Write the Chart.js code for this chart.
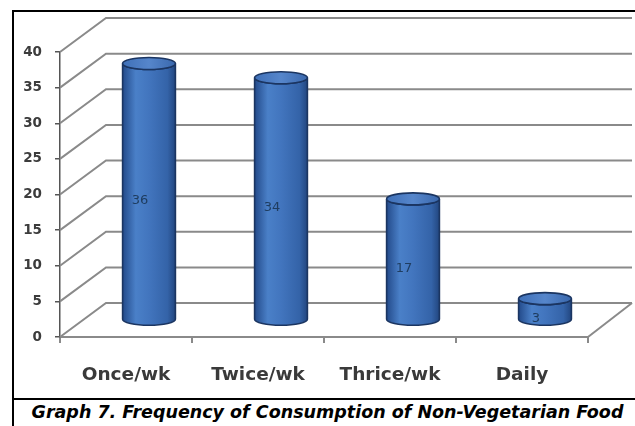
<!DOCTYPE html>
<html>
<head>
<meta charset="utf-8">
<script src="https://cdn.jsdelivr.net/npm/chart.js@4/dist/chart.umd.min.js"></script>
<style>
  html, body { margin: 0; padding: 0; background: #fff; overflow: hidden; }
  #wrap { position: relative; width: 635px; height: 426px; overflow: hidden; }
  .line { position: absolute; background: #000; }
  #topLine { left: 12px; top: 10px; width: 623px; height: 2px; }
  #leftLine { left: 12px; top: 10px; width: 2px; height: 416px; }
  #rule { left: 12px; top: 398px; width: 623px; height: 2px; }
  #caption { position: absolute; left: 20px; width: 615px; top: 402px; text-align: center;
             font: italic bold 17.5px "DejaVu Sans", sans-serif; color: #000; white-space: nowrap; }
  #chart { position: absolute; left: 0; top: 0; }
</style>
</head>
<body>
<div id="wrap">
  <div class="line" id="topLine"></div>
  <div class="line" id="leftLine"></div>
  <canvas id="chart" width="635" height="398"></canvas>
  <div class="line" id="rule"></div>
  <div id="caption">Graph 7. Frequency of Consumption of Non-Vegetarian Food</div>
</div>
<script>
// Consumption frequency categories and respondent counts
const categories = ['Once/wk', 'Twice/wk', 'Thrice/wk', 'Daily'];
const consumers = [36, 34, 17, 3];
const yTickValues = [0, 5, 10, 15, 20, 25, 30, 35, 40];

// Depth of the pseudo-3D box (back wall offset from the front plane)
const DEPTH_X = 46;
const DEPTH_Y = 34;
const GRID = '#8a8a8a';

// Side wall diagonals, back wall gridlines and the floor's right edge
const box3d = {
  id: 'box3d',
  beforeDatasetsDraw(chart) {
    const { ctx, chartArea, scales } = chart;
    const ys = scales.y;
    const left = chartArea.left, right = chartArea.right;
    ctx.save();
    ctx.strokeStyle = GRID;
    ctx.lineWidth = 2;
    yTickValues.forEach(v => {
      const yf = ys.getPixelForValue(v);
      ctx.beginPath();
      ctx.moveTo(left, yf);
      ctx.lineTo(left + DEPTH_X, yf - DEPTH_Y);
      ctx.lineTo(right + DEPTH_X - 2, yf - DEPTH_Y);
      ctx.stroke();
    });
    const y0 = ys.getPixelForValue(0);
    ctx.beginPath();
    ctx.moveTo(right, y0);
    ctx.lineTo(right + DEPTH_X - 2, y0 - DEPTH_Y);
    ctx.stroke();
    ctx.restore();
  }
};

// Cylinders standing mid-depth on the floor, with their value labels
const cylinders = {
  id: 'cylinders',
  afterDatasetsDraw(chart) {
    const { ctx } = chart;
    const ys = chart.scales.y;
    const meta = chart.getDatasetMeta(0);
    meta.data.forEach((bar, i) => {
      const p = bar.getProps(['x', 'y', 'base', 'width'], true);
      const cx = p.x + DEPTH_X / 2;
      const top = p.y - DEPTH_Y / 2;
      const bot = p.base - DEPTH_Y / 2;
      const rx = p.width / 2, ry = 6;
      const L = cx - rx, R = cx + rx;

      ctx.save();
      const body = ctx.createLinearGradient(L, 0, R, 0);
      body.addColorStop(0, '#234a8a');
      body.addColorStop(0.25, '#4a80c8');
      body.addColorStop(0.5, '#4275be');
      body.addColorStop(0.85, '#3463a8');
      body.addColorStop(1, '#22467f');
      ctx.beginPath();
      ctx.moveTo(L, top);
      ctx.lineTo(L, bot);
      ctx.ellipse(cx, bot, rx, ry, 0, Math.PI, 0, true);
      ctx.lineTo(R, top);
      ctx.ellipse(cx, top, rx, ry, 0, 0, Math.PI, false);
      ctx.closePath();
      ctx.fillStyle = body;
      ctx.fill();
      ctx.strokeStyle = '#1b3561';
      ctx.lineWidth = 1.6;
      ctx.stroke();

      const cap = ctx.createLinearGradient(L, 0, R, 0);
      cap.addColorStop(0, '#3f70b8');
      cap.addColorStop(0.5, '#5686cb');
      cap.addColorStop(1, '#3a68ad');
      ctx.beginPath();
      ctx.ellipse(cx, top, rx, ry, 0, 0, Math.PI * 2);
      ctx.fillStyle = cap;
      ctx.fill();
      ctx.stroke();

      ctx.fillStyle = '#1f3d60';
      ctx.font = '13px "DejaVu Sans", sans-serif';
      ctx.textAlign = 'center';
      ctx.textBaseline = 'middle';
      const v = consumers[i];
      ctx.fillText(String(v), cx - 9, ys.getPixelForValue(v / 2) - DEPTH_Y / 2 + 9);
      ctx.restore();
    });
  }
};

new Chart(document.getElementById('chart'), {
  type: 'bar',
  data: {
    labels: categories,
    datasets: [{
      data: consumers,
      backgroundColor: 'rgba(0,0,0,0)',
      borderWidth: 0,
      categoryPercentage: 1,
      barPercentage: 0.4
    }]
  },
  options: {
    responsive: false,
    devicePixelRatio: 1,
    animation: false,
    layout: { padding: { left: 0, top: 52, right: 47, bottom: 0 } },
    plugins: { legend: { display: false }, tooltip: { enabled: false }, title: { display: false } },
    scales: {
      x: {
        offset: true,
        grid: { offset: true, drawOnChartArea: false, drawTicks: true, tickLength: 6, color: GRID, lineWidth: 2 },
        border: { display: true, color: GRID, width: 2 },
        ticks: { padding: 21, color: '#3a3a3a', maxRotation: 0, autoSkip: false,
                 font: { family: 'DejaVu Sans', size: 18.5, weight: 'bold' } },
        afterFit(scale) { scale.height = 61; }
      },
      y: {
        min: 0,
        max: 40,
        afterBuildTicks(scale) { scale.ticks = yTickValues.map(v => ({ value: v })); },
        grid: { drawOnChartArea: false, drawTicks: true, tickLength: 5, color: '#555', lineWidth: 1.5 },
        border: { display: true, color: '#555', width: 1.5 },
        ticks: { padding: 13, color: '#3c3c3c', font: { family: 'DejaVu Sans', size: 13.5, weight: 'bold' } },
        afterFit(scale) { scale.width = 60; }
      }
    }
  },
  plugins: [box3d, cylinders]
});
</script>
</body>
</html>
